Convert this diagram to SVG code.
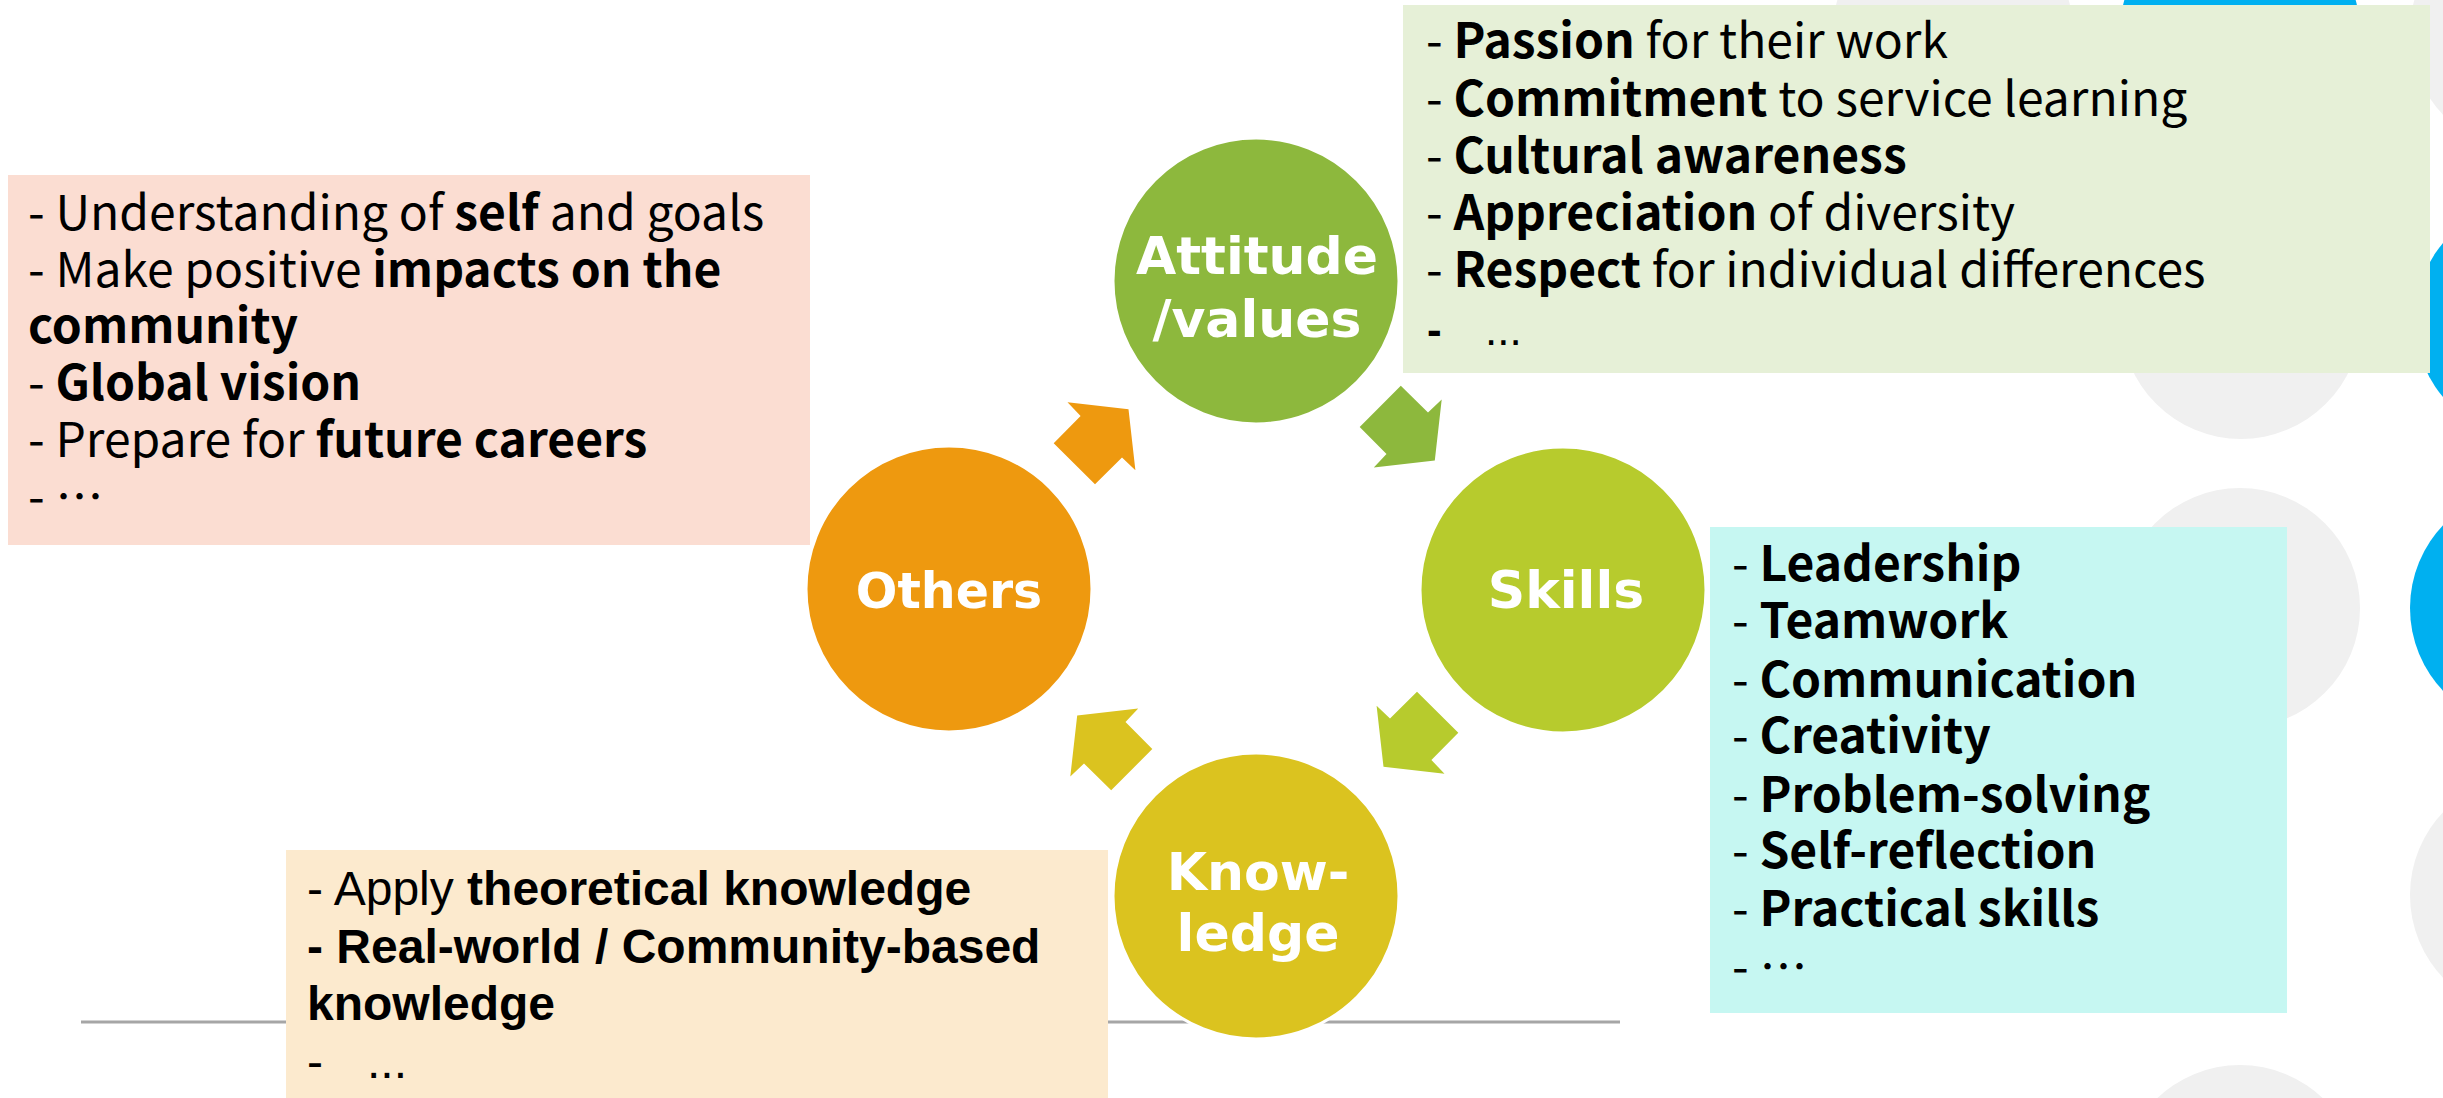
<svg xmlns="http://www.w3.org/2000/svg" width="2443" height="1098" viewBox="0 0 2443 1098">
<style>
.bg{fill:#ffffff}
.dg{fill:#F0F0F0}
.db{fill:#00B0F0}
.jp{font-family:"Noto Sans CJK JP","Noto Sans",sans-serif;font-size:48px;font-weight:400;fill:#000}
.ar{font-family:"Liberation Sans",Arial,sans-serif;font-size:48px;fill:#000}
.b{font-weight:700}
.lbl{font-family:"DejaVu Sans",Verdana,sans-serif;font-weight:700;font-size:52px;fill:#fff;text-anchor:middle}
.node{stroke:#fff;stroke-width:3}
</style>
<defs>
<polygon id="arrow" points="1067.5,402.3 1128.5,409.2 1135.4,470.2 1122,457.5 1095,484.3 1053.7,443.2 1080.6,416"/>
</defs>
<rect class="bg" x="0" y="0" width="2443" height="1098"/>
<g id="decor">
<circle class="dg" cx="1953" cy="32" r="120"/>
<circle class="db" cx="2240" cy="32" r="120"/>
<circle class="dg" cx="2530" cy="32" r="120"/>
<circle class="dg" cx="2241" cy="319" r="120"/>
<circle class="db" cx="2535" cy="320" r="120"/>
<circle class="dg" cx="2240" cy="608" r="120"/>
<circle class="db" cx="2530" cy="608" r="120"/>
<circle class="dg" cx="2530" cy="895" r="120"/>
<circle class="dg" cx="2240" cy="1185" r="120"/>
<circle class="db" cx="2530" cy="1183" r="120"/>
<line x1="81" y1="1022" x2="1620" y2="1022" stroke="#A6A6A6" stroke-width="3"/>
</g>
<g id="box-others">
<rect x="8" y="175" width="802" height="370" fill="#FBDDD2"/>
<text class="jp" x="28" y="230"><tspan>- Understanding of </tspan><tspan class="b">self</tspan><tspan> and goals</tspan></text>
<text class="jp" x="28" y="287"><tspan>- Make positive </tspan><tspan class="b">impacts on the</tspan></text>
<text class="jp b" x="28" y="343">community</text>
<text class="jp" x="28" y="400"><tspan>- </tspan><tspan class="b">Global vision</tspan></text>
<text class="jp" x="28" y="457"><tspan>- Prepare for </tspan><tspan class="b">future careers</tspan></text>
<text class="jp" x="28" y="514">- …</text>
</g>
<g id="box-attitude">
<rect x="1403" y="5" width="1027" height="368" fill="#E6F0D7"/>
<text class="jp" x="1426" y="58"><tspan>- </tspan><tspan class="b">Passion</tspan><tspan> for their work</tspan></text>
<text class="jp" x="1426" y="116"><tspan>- </tspan><tspan class="b">Commitment</tspan><tspan> to service learning</tspan></text>
<text class="jp" x="1426" y="173"><tspan>- </tspan><tspan class="b">Cultural awareness</tspan></text>
<text class="jp" x="1426" y="230"><tspan>- </tspan><tspan class="b">Appreciation</tspan><tspan> of diversity</tspan></text>
<text class="jp" x="1426" y="287"><tspan>- </tspan><tspan class="b">Respect</tspan><tspan> for individual differences</tspan></text>
<text class="ar" x="1427" y="345" style="font-size:44px"><tspan class="b">-</tspan><tspan x="1485">...</tspan></text>
</g>
<g id="box-skills">
<rect x="1710" y="527" width="577" height="486" fill="#C6F7F2"/>
<text class="jp" x="1732" y="581"><tspan>- </tspan><tspan class="b">Leadership</tspan></text>
<text class="jp" x="1732" y="638"><tspan>- </tspan><tspan class="b">Teamwork</tspan></text>
<text class="jp" x="1732" y="697"><tspan>- </tspan><tspan class="b">Communication</tspan></text>
<text class="jp" x="1732" y="753"><tspan>- </tspan><tspan class="b">Creativity</tspan></text>
<text class="jp" x="1732" y="812"><tspan>- </tspan><tspan class="b">Problem-solving</tspan></text>
<text class="jp" x="1732" y="868"><tspan>- </tspan><tspan class="b">Self-reflection</tspan></text>
<text class="jp" x="1732" y="926"><tspan>- </tspan><tspan class="b">Practical skills</tspan></text>
<text class="jp" x="1732" y="984">- …</text>
</g>
<g id="box-knowledge">
<rect x="286" y="850" width="822" height="248" fill="#FCEACE"/>
<text class="ar" x="307" y="905"><tspan>- Apply </tspan><tspan class="b">theoretical knowledge</tspan></text>
<text class="ar b" x="307" y="963">- Real-world / Community-based</text>
<text class="ar b" x="307" y="1020">knowledge</text>
<text class="ar" x="307" y="1078"><tspan>-</tspan><tspan x="367">...</tspan></text>
</g>
<g id="connectors">
<use href="#arrow" fill="#EE990F"/>
<use href="#arrow" fill="#8DB83D" transform="rotate(90 1256 588)"/>
<use href="#arrow" fill="#B7CB2D" transform="rotate(180 1256 588)"/>
<use href="#arrow" fill="#DBC31F" transform="rotate(270 1256 588)"/>
</g>
<g id="node-attitude">
<circle class="node" cx="1256" cy="281" r="143" fill="#8DB83D"/>
<text class="lbl" x="1257" y="274">Attitude</text>
<text class="lbl" x="1257" y="337">/values</text>
</g>
<g id="node-skills">
<circle class="node" cx="1563" cy="590" r="143" fill="#B7CB2D"/>
<text class="lbl" x="1566" y="608">Skills</text>
</g>
<g id="node-knowledge">
<circle class="node" cx="1256" cy="896" r="143" fill="#DBC31F"/>
<text class="lbl" x="1258" y="890">Know-</text>
<text class="lbl" x="1258" y="951">ledge</text>
</g>
<g id="node-others">
<circle class="node" cx="949" cy="589" r="143" fill="#EE990F"/>
<text class="lbl" x="949" y="608" style="font-size:49px">Others</text>
</g>
</svg>
